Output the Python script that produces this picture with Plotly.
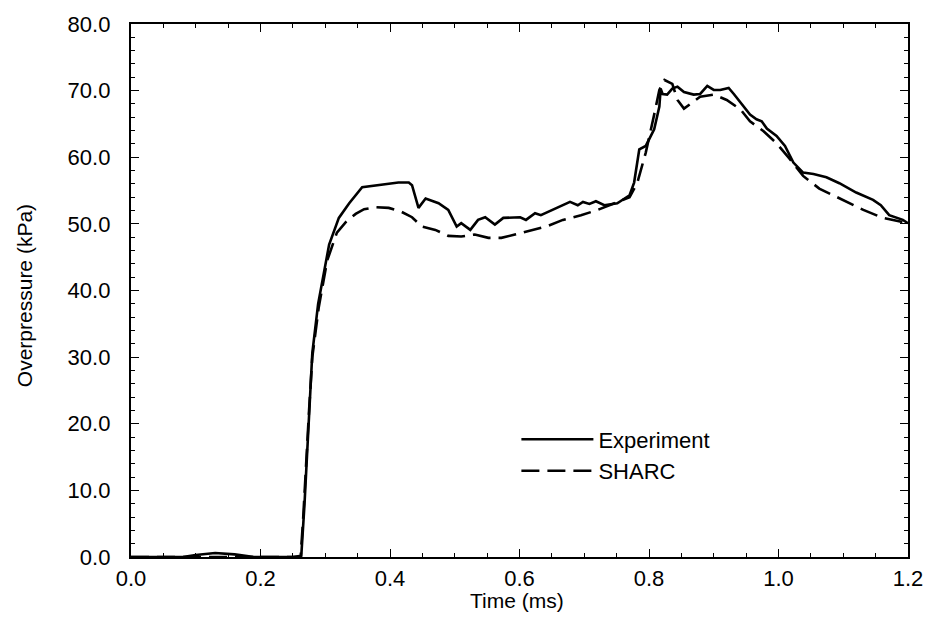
import plotly.graph_objects as go

# Experiment (time in ms, overpressure in kPa)
exp_t = [0.0, 0.08, 0.10, 0.13, 0.16, 0.19, 0.25, 0.263, 0.268, 0.272, 0.276, 0.280, 0.289, 0.303,
         0.306, 0.321, 0.337, 0.357, 0.387, 0.413, 0.429, 0.434, 0.444, 0.455, 0.475, 0.490,
         0.503, 0.510, 0.524, 0.536, 0.547, 0.562, 0.575, 0.593, 0.601, 0.610, 0.624, 0.633,
         0.644, 0.659, 0.678, 0.690, 0.698, 0.708, 0.718, 0.731, 0.751, 0.770, 0.777, 0.785,
         0.795, 0.808, 0.816, 0.818, 0.821, 0.828, 0.836, 0.844, 0.854, 0.869, 0.879, 0.890,
         0.900, 0.910, 0.923, 0.931, 0.946, 0.956, 0.966, 0.974, 0.982, 0.997, 1.010, 1.023,
         1.038, 1.054, 1.074, 1.094, 1.120, 1.146, 1.158, 1.171, 1.192, 1.200]
exp_p = [0.0, 0.0, 0.3, 0.6, 0.4, 0.0, 0.0, 0.2, 8.0, 15.8, 23.0, 30.6, 38.0, 45.4,
         46.9, 50.9, 53.1, 55.5, 55.9, 56.2, 56.2, 55.8, 52.4, 53.8, 53.1, 52.1,
         49.6, 50.1, 49.1, 50.6, 51.0, 49.9, 50.9, 50.9, 51.0, 50.6, 51.6, 51.3,
         51.8, 52.4, 53.3, 52.8, 53.3, 53.0, 53.4, 52.8, 53.1, 54.3, 56.2, 61.2,
         61.7, 64.2, 67.6, 70.3, 69.5, 69.4, 70.3, 70.6, 69.8, 69.4, 69.5, 70.7,
         70.1, 70.1, 70.4, 69.5, 67.6, 66.4, 65.7, 65.4, 64.3, 63.2, 61.7, 59.2,
         57.7, 57.5, 57.0, 56.1, 54.7, 53.6, 52.8, 51.3, 50.6, 50.1]

# SHARC simulation
sharc_t = [0.0, 0.262, 0.266, 0.270, 0.275, 0.280, 0.290, 0.303, 0.318, 0.332, 0.347, 0.360,
           0.378, 0.398, 0.418, 0.434, 0.449, 0.470, 0.490, 0.510, 0.531, 0.552, 0.572,
           0.593, 0.618, 0.644, 0.667, 0.695, 0.721, 0.751, 0.770, 0.782, 0.795, 0.808,
           0.816, 0.824, 0.836, 0.844, 0.854, 0.864, 0.879, 0.900, 0.920, 0.941, 0.956,
           0.977, 0.997, 1.017, 1.038, 1.063, 1.094, 1.131, 1.161, 1.200]
sharc_p = [0.0, 0.0, 6.0, 14.0, 22.0, 30.0, 37.5, 44.5, 48.7, 50.3, 51.5, 52.2,
           52.5, 52.4, 51.8, 51.0, 49.6, 49.1, 48.2, 48.1, 48.4, 47.9, 47.9,
           48.4, 49.0, 49.7, 50.6, 51.3, 52.1, 53.3, 54.0, 56.2, 60.7, 66.4,
           70.1, 71.6, 71.0, 68.6, 67.3, 68.0, 69.1, 69.4, 68.6, 67.2, 65.4,
           63.9, 62.1, 59.8, 57.2, 55.3, 53.8, 52.1, 50.9, 50.1]

x_ticks = [0.0, 0.2, 0.4, 0.6, 0.8, 1.0, 1.2]
y_ticks = [0, 10, 20, 30, 40, 50, 60, 70, 80]
x_title = "Time (ms)"
y_title = "Overpressure (kPa)"

FONT = "Liberation Sans, Arial, sans-serif"

fig = go.Figure()
fig.add_trace(go.Scatter(x=exp_t, y=exp_p, mode="lines", name="Experiment",
                         line=dict(color="black", width=2.6)))
fig.add_trace(go.Scatter(x=sharc_t, y=sharc_p, mode="lines", name="SHARC",
                         line=dict(color="black", width=2.6, dash="18px,8px")))

axis_common = dict(showgrid=False, zeroline=False, showline=True, linecolor="black",
                   linewidth=2.4, mirror="allticks", ticks="inside", ticklen=8,
                   tickwidth=1.2, tickcolor="black",
                   tickfont=dict(family=FONT, size=22, color="black"))

fig.update_xaxes(range=[0, 1.2], tickvals=x_ticks,
                 ticktext=[f"{v:.1f}" for v in x_ticks],
                 ticklabelstandoff=0,
                 minor=dict(ticks="inside", dtick=0.05, ticklen=4, tickcolor="black", tickwidth=1),
                 **axis_common)
fig.update_yaxes(range=[0, 80], tickvals=y_ticks,
                 ticktext=[f"{v:.1f}" for v in y_ticks],
                 ticklabelstandoff=14,
                 minor=dict(ticks="inside", dtick=2, ticklen=4, tickcolor="black", tickwidth=1),
                 **axis_common)

fig.add_annotation(text=x_title, xref="paper", yref="paper", x=0.497, y=-0.081,
                   xanchor="center", yanchor="middle", showarrow=False,
                   font=dict(family=FONT, size=21, color="black"))
fig.add_annotation(text=y_title, xref="paper", yref="paper", x=-0.136, y=0.49,
                   xanchor="center", yanchor="middle", showarrow=False, textangle=-90,
                   font=dict(family=FONT, size=21, color="black"))

fig.update_layout(width=935, height=621,
                  margin=dict(l=131, r=22, t=16, b=64),
                  plot_bgcolor="white", paper_bgcolor="white",
                  legend=dict(x=0.496, y=0.26, xanchor="left", yanchor="top",
                              bgcolor="rgba(0,0,0,0)", itemwidth=72,
                              font=dict(family=FONT, size=22, color="black"),
                              tracegroupgap=0),
                  showlegend=True)

fig.write_html("out.html")
